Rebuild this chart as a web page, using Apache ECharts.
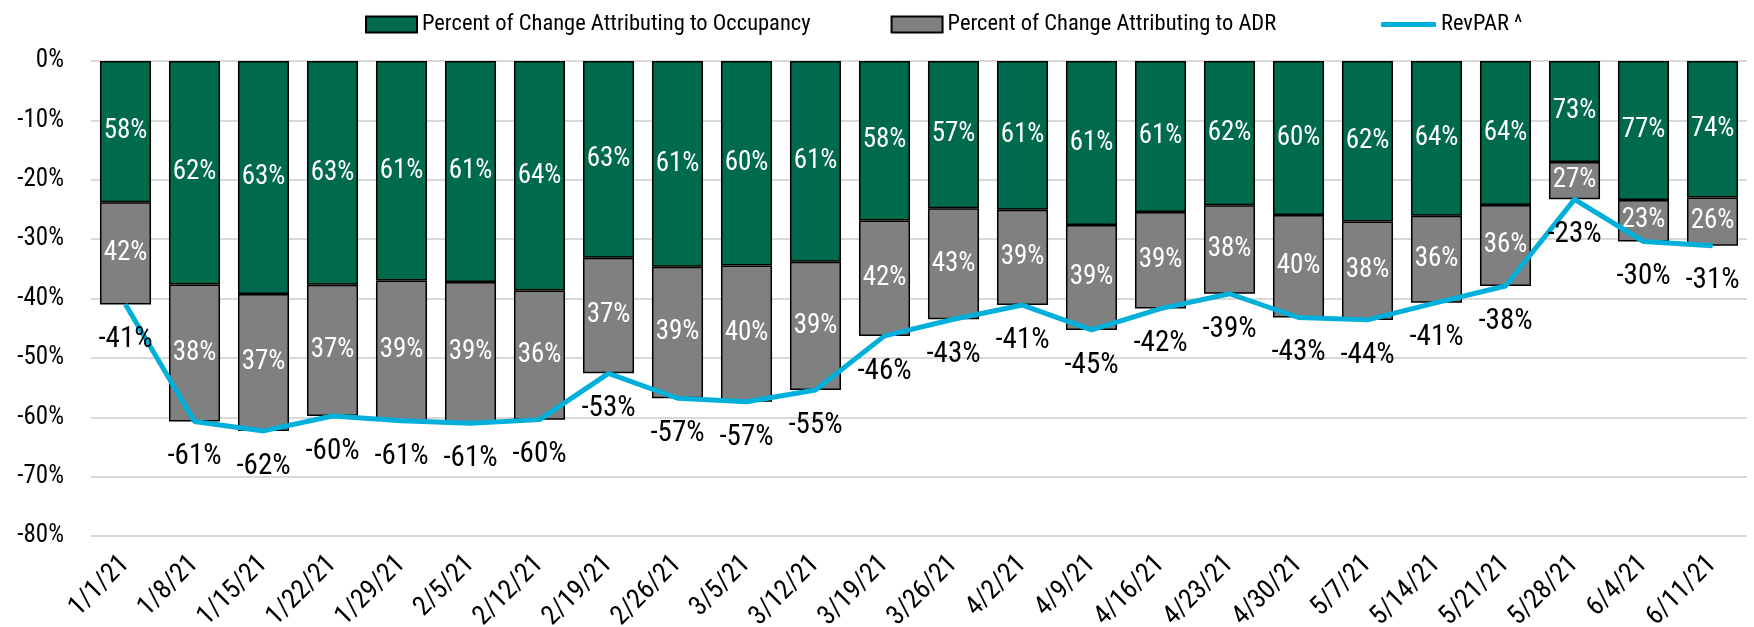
<!DOCTYPE html>
<html>
<head>
<meta charset="utf-8">
<script src="https://cdn.jsdelivr.net/npm/echarts@6/dist/echarts.min.js"></script>
<style>
  html, body { margin: 0; padding: 0; background: #fff; }
  #main { width: 1754px; height: 627px; }
</style>
</head>
<body>
<div id="main"></div>
<script>
// weeks
const weeks = ['1/1/21','1/8/21','1/15/21','1/22/21','1/29/21','2/5/21','2/12/21','2/19/21',
  '2/26/21','3/5/21','3/12/21','3/19/21','3/26/21','4/2/21','4/9/21','4/16/21','4/23/21',
  '4/30/21','5/7/21','5/14/21','5/21/21','5/28/21','6/4/21','6/11/21'];

// RevPAR % change
const revpar = [-41.0,-60.7,-62.3,-59.8,-60.6,-61.0,-60.4,-52.6,-56.8,-57.4,-55.4,-46.3,
  -43.5,-41.1,-45.3,-41.7,-39.2,-43.2,-43.6,-40.7,-37.9,-23.3,-30.4,-31.1];

// share of change from occupancy / ADR (bar labels)
const occShare = [58,62,63,63,61,61,64,63,61,60,61,58,57,61,61,61,62,60,62,64,64,73,77,74];
const adrShare = [42,38,37,37,39,39,36,37,39,40,39,42,43,39,39,39,38,40,38,36,36,27,23,26];

const yTicks = { min: -80, max: 0, interval: 10 };

const FONT = '"Roboto Condensed", "Liberation Sans", sans-serif';
const OCC = 'Percent of Change Attributing to Occupancy';
const ADR = 'Percent of Change Attributing to ADR';
const REV = 'RevPAR ^';

// segments of each bar = RevPAR * share
const occVals = revpar.map((v, i) => +(v * occShare[i] / 100).toFixed(2));
const adrVals = revpar.map((v, i) => +(v * adrShare[i] / 100).toFixed(2));

const chart = echarts.init(document.getElementById('main'));

const legendText = { fontFamily: FONT, fontSize: 22.5, color: '#000' };

chart.setOption({
  animation: false,
  textStyle: { fontFamily: FONT },
  legend: [
    {
      left: 360,
      top: 8,
      itemWidth: 51,
      itemHeight: 16,
      itemGap: 80,
      textStyle: legendText,
      data: [
        { name: OCC, icon: 'rect', itemStyle: { borderColor: '#000', borderWidth: 2 } },
        { name: ADR, icon: 'rect', itemStyle: { borderColor: '#000', borderWidth: 2 } }
      ]
    },
    {
      left: 1376,
      top: 8,
      itemWidth: 55,
      itemHeight: 5,
      textStyle: legendText,
      data: [{ name: REV, icon: 'roundRect' }]
    }
  ],
  grid: { left: 91, right: 7, top: 61, bottom: 91, outerBoundsMode: 'none', containLabel: false },
  xAxis: {
    type: 'category',
    data: weeks,
    axisLine: { show: false, onZero: false },
    axisTick: { show: false },
    axisLabel: {
      rotate: 45,
      margin: 24,
      fontSize: 27,
      fontFamily: FONT,
      color: '#000',
      interval: 0
    }
  },
  yAxis: {
    type: 'value',
    min: yTicks.min,
    max: yTicks.max,
    interval: yTicks.interval,
    axisLabel: {
      formatter: '{value}%',
      fontSize: 25,
      fontFamily: FONT,
      color: '#000',
      margin: 27
    },
    axisLine: { show: false },
    axisTick: { show: false },
    splitLine: { lineStyle: { color: '#d9d9d9', width: 2 } }
  },
  series: [
    {
      name: OCC,
      type: 'bar',
      stack: 'rev',
      data: occVals,
      barCategoryGap: '26%',
      itemStyle: { color: '#006b4c', borderColor: '#000', borderWidth: 1.5 },
      label: {
        show: true,
        position: 'inside',
        color: '#fff',
        fontSize: 27,
        fontFamily: FONT,
        formatter: p => occShare[p.dataIndex] + '%'
      }
    },
    {
      name: ADR,
      type: 'bar',
      stack: 'rev',
      data: adrVals,
      itemStyle: { color: '#808080', borderColor: '#000', borderWidth: 1.5 },
      label: {
        show: true,
        position: 'inside',
        color: '#fff',
        fontSize: 27,
        fontFamily: FONT,
        formatter: p => adrShare[p.dataIndex] + '%'
      }
    },
    {
      name: REV,
      type: 'line',
      data: revpar,
      symbol: 'circle',
      symbolSize: 2,
      showSymbol: true,
      z: 5,
      lineStyle: { color: '#00b0da', width: 5 },
      itemStyle: { color: '#00b0da' },
      label: {
        show: true,
        position: 'bottom',
        distance: 20,
        color: '#000',
        fontSize: 29,
        fontFamily: FONT,
        formatter: p => Math.round(p.value) + '%'
      }
    }
  ]
});
</script>
</body>
</html>
